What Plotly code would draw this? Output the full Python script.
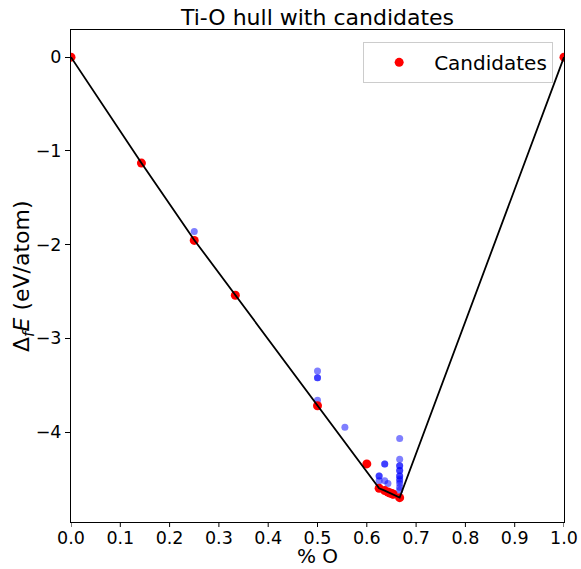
import plotly.graph_objects as go

# Ti-O formation energies (eV/atom) versus O fraction
hull_x = [0.0, 1/7, 0.25, 1/3, 0.5, 0.625, 7/11, 9/14, 11/17, 0.65, 15/23, 17/26, 2/3, 1.0]
hull_e = [0.0, -1.13, -1.95, -2.54, -3.71, -4.60, -4.625, -4.64, -4.65, -4.655, -4.66, -4.665, -4.70, 0.0]

cand_x = [0.0, 1/7, 0.25, 1/3, 0.5, 0.6, 0.625, 7/11, 9/14, 11/17, 0.65, 15/23, 17/26, 2/3, 1.0]
cand_e = [0.0, -1.13, -1.955, -2.54, -3.72, -4.34, -4.60, -4.625, -4.64, -4.65, -4.655, -4.66, -4.665, -4.70, 0.0]

other_x = [0.25, 0.5, 0.5, 0.5, 0.5, 5/9, 7/11, 7/11, 0.625, 0.625, 0.625, 7/11, 9/14,
           2/3, 2/3, 2/3, 2/3, 2/3, 2/3, 2/3, 2/3, 2/3, 2/3, 2/3, 2/3, 2/3]
other_e = [-1.86, -3.35, -3.42, -3.42, -3.66, -3.95, -4.34, -4.34, -4.47, -4.47, -4.52, -4.52, -4.55,
           -4.07, -4.29, -4.36, -4.36, -4.41, -4.41, -4.47, -4.47, -4.50, -4.52, -4.55, -4.59, -4.62]

x_ticks = [i / 10 for i in range(11)]
y_ticks = [0, -1, -2, -3, -4]

font = "DejaVu Sans, Liberation Sans, sans-serif"
plot_h = 569 - 30 - 47

fig = go.Figure()
fig.add_trace(go.Scatter(
    x=other_x, y=other_e, mode="markers", showlegend=False,
    marker=dict(color="rgba(0,0,255,0.5)", size=7, line=dict(width=0)),
))
fig.add_trace(go.Scatter(
    x=cand_x, y=cand_e, mode="markers", name="Candidates",
    marker=dict(color="red", size=9, line=dict(width=0)),
))
fig.add_trace(go.Scatter(
    x=hull_x, y=hull_e, mode="lines", showlegend=False,
    line=dict(color="black", width=1.8),
))

axis_common = dict(
    showline=True, linecolor="black", linewidth=1, mirror=True,
    showgrid=False, zeroline=False, automargin=False,
    tickfont=dict(family=font, size=17.5, color="black"),
)

# short outward tick marks under the x axis
x_tick_marks = [
    dict(type="line", xref="x", yref="paper", x0=t, x1=t, y0=0, y1=-5 / plot_h,
         line=dict(color="black", width=1))
    for t in x_ticks
]

fig.update_layout(
    width=581, height=569,
    margin=dict(l=71, r=17, t=30, b=47),
    paper_bgcolor="white", plot_bgcolor="white",
    font=dict(family=font, color="black"),
    title=dict(text="Ti-O hull with candidates", x=0.5, xref="paper",
               y=1 - 17 / 569, yanchor="middle",
               font=dict(family=font, size=22, color="black")),
    xaxis=dict(range=[0, 1], tickvals=x_ticks, tickformat=".1f", ticks="",
               ticklabelstandoff=0, **axis_common),
    yaxis=dict(range=[-4.96, 0.29], tickvals=y_ticks, ticks="outside", ticklen=5,
               tickwidth=1, tickcolor="black", **axis_common),
    legend=dict(x=0.978, y=0.976, xanchor="right", yanchor="top",
                bgcolor="rgba(255,255,255,0.8)", bordercolor="#cccccc", borderwidth=1,
                font=dict(family=font, size=20, color="black"),
                itemwidth=60),
    shapes=x_tick_marks,
    annotations=[
        dict(text="% O", xref="paper", yref="paper", x=0.5, y=-47 / plot_h,
             xanchor="center", yanchor="bottom", showarrow=False, borderpad=0,
             font=dict(family=font, size=20, color="black")),
        dict(text="Δ<sub><i>f</i></sub><i>E</i> (eV/atom)", xref="paper", yref="paper",
             x=-48 / 493, y=0.5, xanchor="center", yanchor="middle", textangle=-90,
             showarrow=False, font=dict(family=font, size=22, color="black")),
    ],
)

fig.write_html("out.html")
